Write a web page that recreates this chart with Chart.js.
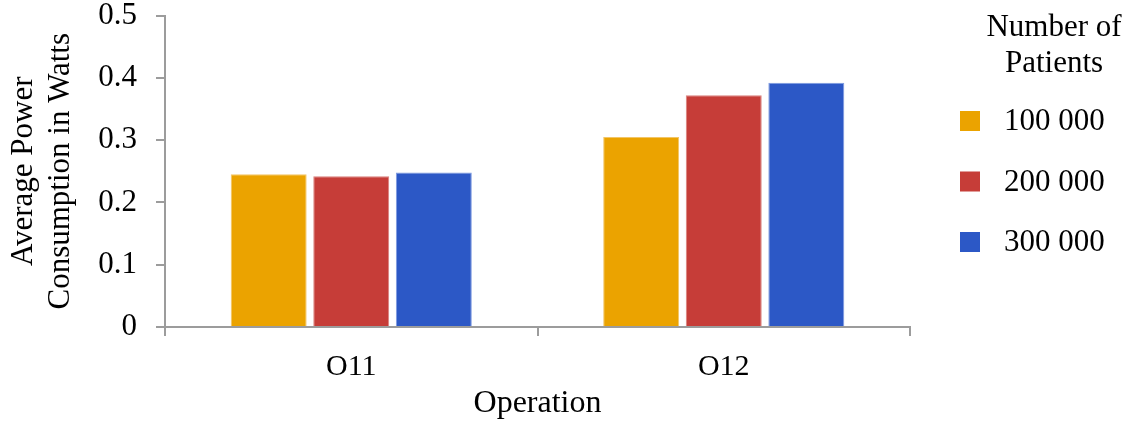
<!DOCTYPE html>
<html>
<head>
<meta charset="utf-8">
<script src="https://cdn.jsdelivr.net/npm/chart.js@4/dist/chart.umd.min.js"></script>
<style>
  html, body { margin: 0; padding: 0; background: #ffffff; }
  #wrap { width: 1138px; height: 433px; position: relative; }
</style>
</head>
<body>
<div id="wrap"><canvas id="c" width="1138" height="433"></canvas></div>
<script>
// Operations on the x axis
const operations = ['O11', 'O12'];
// Average power (W) per number of patients
const patients100k = [0.245, 0.305];
const patients200k = [0.242, 0.372];
const patients300k = [0.248, 0.392];
const seriesLabels = ['100 000', '200 000', '300 000'];
const legendTitle = ['Number of', 'Patients'];
const yTitle = ['Average Power', 'Consumption in Watts'];
const xTitle = 'Operation';

const FONT = '"Liberation Serif", "Times New Roman", serif';
const AXIS = '#9c9c9c';
const colors = ['#EBA300', '#C63D38', '#2C58C6'];
const edges = ['#F2C566', '#DA807C', '#7E9AE0'];

// Legend drawn on the right side, built from the datasets
const sideLegend = {
  id: 'sideLegend',
  afterDraw(chart) {
    const ctx = chart.ctx;
    ctx.save();
    ctx.fillStyle = '#000';
    ctx.font = '31px ' + FONT;
    ctx.textAlign = 'center';
    ctx.textBaseline = 'middle';
    const cx = 1054;
    legendTitle.forEach((t, i) => ctx.fillText(t, cx, 28 + i * 36));
    ctx.textAlign = 'left';
    chart.data.datasets.forEach((ds, i) => {
      const y = 121 + i * 60.5;
      ctx.fillStyle = ds.backgroundColor;
      ctx.fillRect(960, y - 10, 20, 20);
      ctx.fillStyle = '#000';
      ctx.fillText(ds.label, 1004, y + 1);
    });
    ctx.restore();
  }
};

const datasets = [patients100k, patients200k, patients300k].map((vals, i) => ({
  label: seriesLabels[i],
  data: vals,
  backgroundColor: colors[i],
  borderColor: edges[i],
  borderWidth: 1,
  categoryPercentage: 0.665,
  barPercentage: 0.92
}));

new Chart(document.getElementById('c'), {
  type: 'bar',
  data: { labels: operations, datasets },
  plugins: [sideLegend],
  options: {
    responsive: false,
    animation: false,
    devicePixelRatio: 1,
    layout: { padding: { left: 0, right: 228, top: 0, bottom: 0 } },
    plugins: { legend: { display: false }, tooltip: { enabled: false } },
    scales: {
      x: {
        grid: { display: true, drawOnChartArea: false, drawTicks: true, tickLength: 9, color: AXIS, lineWidth: 2, offset: true },
        border: { display: true, color: AXIS, width: 2 },
        ticks: { color: '#000', font: { family: FONT, size: 30 }, padding: 13 },
        title: { display: true, text: xTitle, color: '#000', font: { family: FONT, size: 32 }, padding: { top: 0, bottom: 10 } },
        afterFit(scale) { scale.height = 106; }
      },
      y: {
        min: 0, max: 0.5,
        ticks: { stepSize: 0.1, color: '#000', font: { family: FONT, size: 31, lineHeight: 1.0 }, padding: 19 },
        grid: { display: true, drawOnChartArea: false, drawTicks: true, tickLength: 9, color: AXIS, lineWidth: 2 },
        border: { display: true, color: AXIS, width: 2 },
        title: { display: true, text: yTitle, color: '#000', font: { family: FONT, size: 31, lineHeight: 1.2 }, padding: { top: 5, bottom: 0 } },
        afterFit(scale) {
          scale.width = 165;
          scale.paddingTop = 15.5;
          scale.paddingBottom = 0;
        }
      }
    }
  }
});
</script>
</body>
</html>
